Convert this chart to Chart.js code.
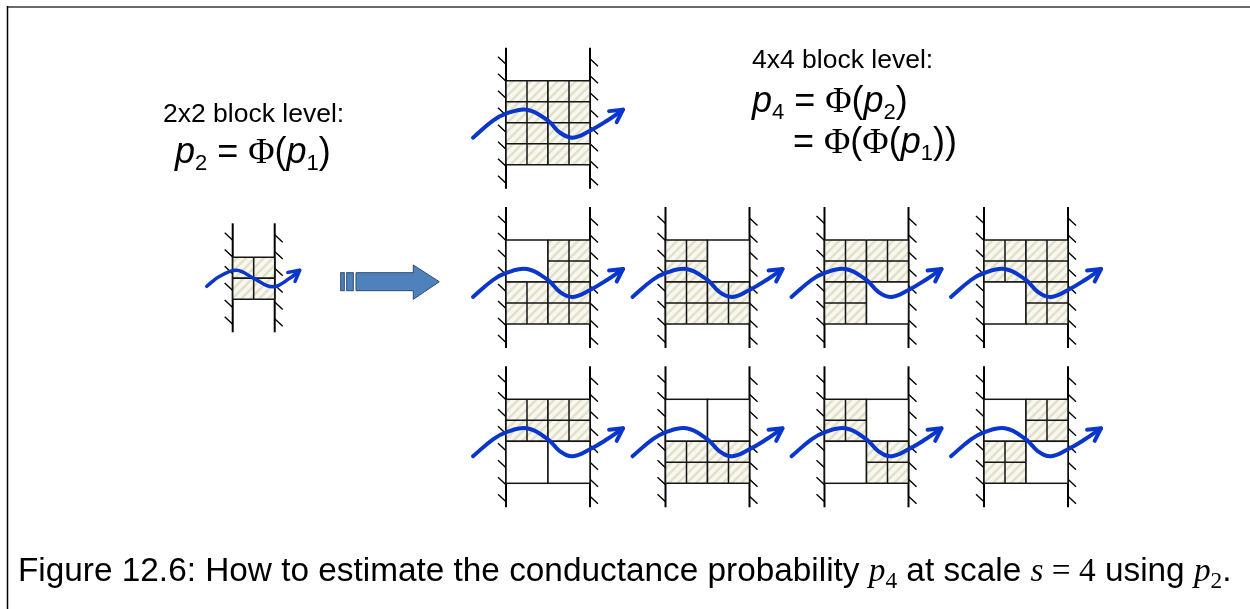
<!DOCTYPE html>
<html>
<head>
<meta charset="utf-8">
<script src="https://cdn.jsdelivr.net/npm/chart.js@4.4.1/dist/chart.umd.min.js"></script>
<style>
	html, body { margin: 0; padding: 0; background: #fff; }
	#figure { display: block; }
</style>
</head>
<body>
<canvas id="figure" width="1250" height="609"></canvas>
<script>
// Quadrants: top-left, top-right, bottom-left, bottom-right (1 = hatched / conducting)
const topBlockPattern = [1, 1, 1, 1];
const middleRowPatterns = [[0, 1, 1, 1], [1, 0, 1, 1], [1, 1, 1, 0], [1, 1, 0, 1]];
const bottomRowPatterns = [[1, 1, 0, 0], [0, 0, 1, 1], [1, 0, 0, 1], [0, 1, 1, 0]];
const smallBlockCells = [1, 1, 1, 1];

// Wave path, relative to left wall / top of grid
const bigWaveX = [-33, -13, 0, 21, 42, 54, 67, 84, 101, 117];
const bigWaveY = [57, 40, 33, 29, 40, 52, 57, 50, 40, 29];
const smallWaveX = [-26, -13, 4, 21, 40, 57, 67];
const smallWaveY = [29, 19, 13, 21, 29.5, 21, 13];

// Texts
const leftLabel = "2x2 block level:";
const rightLabel = "4x4 block level:";
const captionLead = "Figure 12.6: How to estimate the conductance probability ";

// Layout
const CELL = 21;
const COL_X = [506, 665.5, 824.5, 984];
const ROW_Y = [80.7, 240, 399.3];
const SMALL_X = 232.7;
const SMALL_Y = 257.3;
const WAVE_BLUE = "#0a36cc";
const SANS = '"Liberation Sans", Arial, sans-serif';
const SERIF = '"Liberation Serif", "Times New Roman", serif';

const blocks = [
	{ x: COL_X[0], y: ROW_Y[0], pattern: topBlockPattern },
	...middleRowPatterns.map((p, i) => ({ x: COL_X[i], y: ROW_Y[1], pattern: p })),
	...bottomRowPatterns.map((p, i) => ({ x: COL_X[i], y: ROW_Y[2], pattern: p })),
];

const waveData = (xs, ys, ox, oy) => xs.map((x, i) => ({ x: x + ox, y: ys[i] + oy }));

const DATASETS = [
	{
		data: waveData(smallWaveX, smallWaveY, SMALL_X, SMALL_Y),
		borderWidth: 3.5,
		headLen: 12,
	},
	...blocks.map((b) => ({
		data: waveData(bigWaveX, bigWaveY, b.x, b.y),
		borderWidth: 4,
		headLen: 14,
	})),
].map((d) => ({
	...d,
	showLine: true,
	borderColor: WAVE_BLUE,
	pointRadius: 0,
	tension: 0.4,
	fill: false,
	clip: false,
	borderCapStyle: "round",
}));

let hatch;
const hatchPattern = (ctx) => {
	if (hatch) return hatch;
	const c = document.createElement("canvas");
	c.width = 9;
	c.height = 9;
	const g = c.getContext("2d");
	g.fillStyle = "#f8f8f1";
	g.fillRect(0, 0, 9, 9);
	g.strokeStyle = "#e2e2cc";
	g.lineWidth = 2.6;
	[[0, 9, 9, 0], [-4.5, 4.5, 4.5, -4.5], [4.5, 13.5, 13.5, 4.5]].forEach(([a, b, c2, d]) => {
		g.beginPath();
		g.moveTo(a, b);
		g.lineTo(c2, d);
		g.stroke();
	});
	hatch = ctx.createPattern(c, "repeat");
	return hatch;
};

const drawRuns = (ctx, runs, x0, y0) => {
	let x = x0;
	ctx.textBaseline = "alphabetic";
	ctx.textAlign = "left";
	ctx.fillStyle = "#000";
	runs.forEach((r) => {
		ctx.font = r.f;
		ctx.fillText(r.t, x, y0 + (r.dy || 0));
		x += ctx.measureText(r.t).width;
	});
	return x - x0;
};

const runsWidth = (ctx, runs) =>
	runs.reduce((w, r) => {
		ctx.font = r.f;
		return w + ctx.measureText(r.t).width;
	}, 0);

const figurePlugin = {
	id: "figure",
	beforeDatasetsDraw(chart) {
		const { ctx, scales } = chart;
		const X = (v) => scales.x.getPixelForValue(v);
		const Y = (v) => scales.y.getPixelForValue(v);

		ctx.save();
		// page frame
		ctx.strokeStyle = "#6b6b6b";
		ctx.lineWidth = 2;
		ctx.beginPath();
		ctx.moveTo(X(7), Y(7));
		ctx.lineTo(X(1250), Y(7));
		ctx.stroke();
		ctx.strokeStyle = "#000";
		ctx.lineWidth = 1.5;
		ctx.beginPath();
		ctx.moveTo(X(7.5), Y(6));
		ctx.lineTo(X(7.5), Y(609));
		ctx.stroke();

		const walls = (left, top, width, above, below, tickStart, tickStep, tickCount) => {
			ctx.strokeStyle = "#000";
			ctx.lineWidth = 2;
			[left, left + width].forEach((wx) => {
				ctx.beginPath();
				ctx.moveTo(X(wx), Y(top - above));
				ctx.lineTo(X(wx), Y(top + width + below));
				ctx.stroke();
			});
			ctx.lineWidth = 1.4;
			for (let k = 0; k < tickCount; k++) {
				const ty = top + tickStart + k * tickStep;
				ctx.beginPath();
				ctx.moveTo(X(left - 8), Y(ty));
				ctx.lineTo(X(left), Y(ty + 7.5));
				ctx.moveTo(X(left + width), Y(ty + 2));
				ctx.lineTo(X(left + width + 8), Y(ty + 9.5));
				ctx.stroke();
			}
		};

		const hatchedCells = (left, top, n) => {
			const s = n * CELL;
			ctx.fillStyle = hatchPattern(ctx);
			ctx.fillRect(X(left), Y(top), X(left + s) - X(left), Y(top + s) - Y(top));
			ctx.strokeStyle = "#151515";
			ctx.lineWidth = 1.5;
			ctx.beginPath();
			for (let i = 0; i <= n; i++) {
				ctx.moveTo(X(left + i * CELL), Y(top));
				ctx.lineTo(X(left + i * CELL), Y(top + s));
				ctx.moveTo(X(left), Y(top + i * CELL));
				ctx.lineTo(X(left + s), Y(top + i * CELL));
			}
			ctx.stroke();
		};

		const emptyCell = (left, top, n) => {
			const s = n * CELL;
			ctx.fillStyle = "#fff";
			ctx.fillRect(X(left), Y(top), X(left + s) - X(left), Y(top + s) - Y(top));
			ctx.strokeStyle = "#151515";
			ctx.lineWidth = 1.5;
			ctx.strokeRect(X(left), Y(top), X(left + s) - X(left), Y(top + s) - Y(top));
		};

		// 2x2 block
		walls(SMALL_X, SMALL_Y, 2 * CELL, 34, 33, -24.6, 16.8, 6);
		smallBlockCells.forEach((c, q) => {
			const cx = SMALL_X + (q % 2) * CELL;
			const cy = SMALL_Y + Math.floor(q / 2) * CELL;
			if (c) hatchedCells(cx, cy, 1);
			else emptyCell(cx, cy, 1);
		});

		// 4x4 blocks
		blocks.forEach((b) => {
			walls(b.x, b.y, 4 * CELL, 33, 24, -24, 17, 8);
			b.pattern.forEach((h, q) => {
				const qx = b.x + (q % 2) * 2 * CELL;
				const qy = b.y + Math.floor(q / 2) * 2 * CELL;
				if (h) hatchedCells(qx, qy, 2);
				else emptyCell(qx, qy, 2);
			});
		});

		// transfer arrow
		ctx.fillStyle = "#4f81bd";
		ctx.strokeStyle = "#2a4a72";
		ctx.lineWidth = 1;
		[[340.7, 344.3], [346.7, 353.3]].forEach(([a, b]) => {
			ctx.fillRect(X(a), Y(272.7), X(b) - X(a), Y(290.7) - Y(272.7));
			ctx.strokeRect(X(a), Y(272.7), X(b) - X(a), Y(290.7) - Y(272.7));
		});
		ctx.beginPath();
		ctx.moveTo(X(356), Y(272.7));
		ctx.lineTo(X(413.3), Y(272.7));
		ctx.lineTo(X(413.3), Y(265));
		ctx.lineTo(X(439.3), Y(281.7));
		ctx.lineTo(X(413.3), Y(299.3));
		ctx.lineTo(X(413.3), Y(290.7));
		ctx.lineTo(X(356), Y(290.7));
		ctx.closePath();
		ctx.fill();
		ctx.stroke();
		ctx.restore();
	},
	afterDatasetsDraw(chart) {
		const { ctx, scales } = chart;
		const X = (v) => scales.x.getPixelForValue(v);
		const Y = (v) => scales.y.getPixelForValue(v);
		ctx.save();

		// arrow heads on the waves
		chart.data.datasets.forEach((ds, i) => {
			const pts = chart.getDatasetMeta(i).data;
			const tip = pts[pts.length - 1];
			const prev = pts[pts.length - 2];
			let dx = tip.x - (tip.cp1x ?? prev.x);
			let dy = tip.y - (tip.cp1y ?? prev.y);
			if (Math.abs(dx) + Math.abs(dy) < 0.01) {
				dx = tip.x - prev.x;
				dy = tip.y - prev.y;
			}
			const ang = Math.atan2(dy, dx);
			const L = ds.headLen;
			ctx.strokeStyle = WAVE_BLUE;
			ctx.lineWidth = ds.borderWidth;
			ctx.lineCap = "round";
			ctx.lineJoin = "round";
			ctx.beginPath();
			ctx.moveTo(tip.x + L * Math.cos(ang + Math.PI - 0.5), tip.y + L * Math.sin(ang + Math.PI - 0.5));
			ctx.lineTo(tip.x, tip.y);
			ctx.lineTo(tip.x + L * Math.cos(ang + Math.PI + 0.5), tip.y + L * Math.sin(ang + Math.PI + 0.5));
			ctx.stroke();
		});

		// labels
		const big = 36;
		const sub = 22;
		const it = `italic ${big}px ${SANS}`;
		const up = `${big}px ${SANS}`;
		const sb = `${sub}px ${SANS}`;
		const phi = `${big}px ${SERIF}`;

		ctx.font = `26.5px ${SANS}`;
		ctx.fillStyle = "#000";
		ctx.fillText(leftLabel, X(163), Y(122));
		ctx.fillText(rightLabel, X(752), Y(68));

		drawRuns(ctx, [
			{ t: "p", f: it }, { t: "2", f: sb, dy: 7 }, { t: " = ", f: up },
			{ t: "Φ", f: phi }, { t: "(", f: up }, { t: "p", f: it },
			{ t: "1", f: sb, dy: 7 }, { t: ")", f: up },
		], X(175), Y(163));

		drawRuns(ctx, [
			{ t: "p", f: it }, { t: "4", f: sb, dy: 7 }, { t: " = ", f: up },
			{ t: "Φ", f: phi }, { t: "(", f: up }, { t: "p", f: it },
			{ t: "2", f: sb, dy: 7 }, { t: ")", f: up },
		], X(752), Y(112));

		drawRuns(ctx, [
			{ t: "= ", f: up }, { t: "Φ", f: phi }, { t: "(", f: up },
			{ t: "Φ", f: phi }, { t: "(", f: up }, { t: "p", f: it },
			{ t: "1", f: sb, dy: 7 }, { t: "))", f: up },
		], X(793), Y(153));

		// caption, fitted to its span in the reference
		const capRuns = (s) => [
			{ t: captionLead, f: `${s}px ${SANS}` },
			{ t: "p", f: `italic ${s}px ${SERIF}` },
			{ t: "4", f: `${s * 0.7}px ${SERIF}`, dy: s * 0.2 },
			{ t: " at scale ", f: `${s}px ${SANS}` },
			{ t: "s", f: `italic ${s}px ${SERIF}` },
			{ t: " = 4", f: `${s}px ${SERIF}` },
			{ t: " using ", f: `${s}px ${SANS}` },
			{ t: "p", f: `italic ${s}px ${SERIF}` },
			{ t: "2", f: `${s * 0.7}px ${SERIF}`, dy: s * 0.2 },
			{ t: ".", f: `${s}px ${SANS}` },
		];
		const w0 = runsWidth(ctx, capRuns(28));
		const size = Math.max(24, Math.min(34, 28 * (X(1232) - X(18)) / w0));
		drawRuns(ctx, capRuns(size), X(18), Y(581));

		ctx.restore();
	},
};

const CONFIG = {
	type: "scatter",
	data: { datasets: DATASETS },
	options: {
		responsive: false,
		animation: false,
		devicePixelRatio: 1,
		events: [],
		layout: { padding: 0 },
		plugins: {
			legend: { display: false },
			tooltip: { enabled: false },
		},
		scales: {
			x: { type: "linear", min: 0, max: 1250, display: false },
			y: { type: "linear", min: 0, max: 609, reverse: true, display: false },
		},
	},
	plugins: [figurePlugin],
};

new Chart(document.getElementById("figure"), CONFIG);
</script>
</body>
</html>
